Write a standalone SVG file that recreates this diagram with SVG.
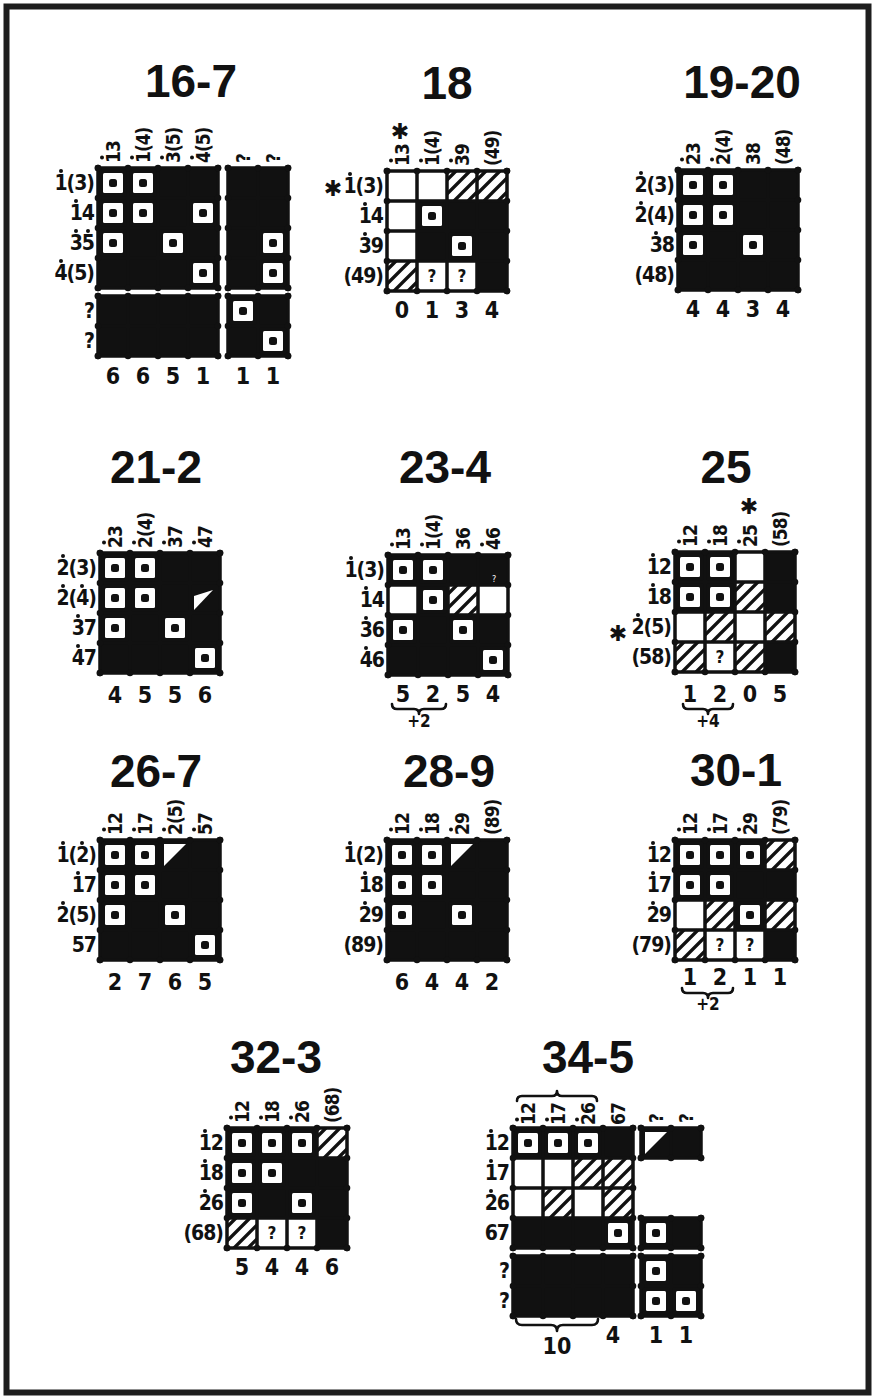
<svg xmlns="http://www.w3.org/2000/svg" width="875" height="1399" viewBox="0 0 875 1399">
<style>
.k{fill:#111}
.dt{fill:#111}
.g{fill:none;stroke:#111;stroke-width:3.5;marker-start:url(#k);marker-mid:url(#k);marker-end:url(#k)}
.br{fill:none;stroke:#111;stroke-width:2.6;stroke-linecap:round;stroke-linejoin:round}
.t{font-family:"Liberation Sans",Arial,sans-serif;font-weight:bold;font-size:46px;text-anchor:middle;fill:#111}
.r{font-family:"DejaVu Sans Condensed","DejaVu Sans",sans-serif;font-weight:bold;font-size:21px;text-anchor:end;fill:#111;letter-spacing:-1px}
.c{font-family:"DejaVu Sans Condensed","DejaVu Sans",sans-serif;font-weight:bold;font-size:19px;fill:#111;letter-spacing:-1px}
.n{font-family:"DejaVu Sans Condensed","DejaVu Sans",sans-serif;font-weight:bold;font-size:23px;text-anchor:middle;fill:#111}
.q{font-family:"DejaVu Sans Condensed","DejaVu Sans",sans-serif;font-weight:bold;font-size:17px;text-anchor:middle;fill:#111}
.s{font-family:"DejaVu Sans",sans-serif;font-weight:bold;font-size:22px;text-anchor:middle;fill:#111}
.p{font-family:"DejaVu Sans Condensed","DejaVu Sans",sans-serif;font-weight:bold;font-size:17px;text-anchor:middle;fill:#111}
</style>
<defs>
<marker id="k" viewBox="0 0 8 8" refX="4" refY="4" markerWidth="8" markerHeight="8" markerUnits="userSpaceOnUse" overflow="visible"><circle cx="4" cy="4" r="3.3" fill="#111"/></marker>
<g id="B"><rect width="30" height="30" fill="#111"/></g>
<g id="D"><rect width="30" height="30" fill="#111"/><rect x="5" y="5" width="20" height="20" rx="1.5" fill="#fff"/><rect x="11" y="11" width="8" height="8" rx="2.5" fill="#111"/></g>
<g id="H"><rect width="30" height="30" fill="#fff"/><path d="M0,9L9,0M0,23L23,0M7,30L30,7M21,30L30,21" stroke="#111" stroke-width="3.2" fill="none"/></g>
<g id="T"><rect width="30" height="30" fill="#111"/><path d="M4,4H26L4,26Z" fill="#fff"/></g>
</defs>
<rect width="875" height="1399" fill="#fff"/>
<rect x="6.5" y="6.5" width="862" height="1386" fill="none" stroke="#1e1e1e" stroke-width="6"/>

<g id="p16-7">
<text class="t" x="191" y="97">16-7</text>
<rect class="k" x="98" y="168" width="120" height="120"/>
<use href="#D" x="98" y="168"/><use href="#D" x="128" y="168"/>
<use href="#D" x="98" y="198"/><use href="#D" x="128" y="198"/><use href="#D" x="188" y="198"/>
<use href="#D" x="98" y="228"/><use href="#D" x="158" y="228"/>
<use href="#D" x="188" y="258"/>
<rect class="k" x="228" y="168" width="60" height="120"/>
<use href="#D" x="258" y="228"/><use href="#D" x="258" y="258"/>
<rect class="k" x="98" y="296" width="120" height="60"/>
<rect class="k" x="228" y="296" width="60" height="60"/>
<use href="#D" x="228" y="296"/><use href="#D" x="258" y="326"/>
<path class="g" d="M98,168V288M128,168V288M158,168V288M188,168V288M218,168V288M98,168H218M98,198H218M98,228H218M98,258H218M98,288H218"/>
<path class="g" d="M228,168V288M258,168V288M288,168V288M228,168H288M228,198H288M228,228H288M228,258H288M228,288H288"/>
<path class="g" d="M98,296V356M128,296V356M158,296V356M188,296V356M218,296V356M98,296H218M98,326H218M98,356H218"/>
<path class="g" d="M228,296V356M258,296V356M288,296V356M228,296H288M228,326H288M228,356H288"/>
<text class="r" x="94" y="190">1(3)</text>
<text class="r" x="94" y="220">14</text>
<text class="r" x="94" y="250">35</text>
<text class="r" x="94" y="280">4(5)</text>
<text class="r" x="94" y="318">?</text>
<text class="r" x="94" y="348">?</text>
<circle class="dt" cx="61" cy="171" r="2"/><circle class="dt" cx="76" cy="201" r="2"/><circle class="dt" cx="76" cy="231" r="2"/><circle class="dt" cx="88" cy="231" r="2"/><circle class="dt" cx="61" cy="261" r="2"/>
<text class="c" transform="translate(120,163) rotate(-90)">13</text>
<text class="c" transform="translate(150,163) rotate(-90)">1(4)</text>
<text class="c" transform="translate(180,163) rotate(-90)">3(5)</text>
<text class="c" transform="translate(210,163) rotate(-90)">4(5)</text>
<text class="c" transform="translate(250,163) rotate(-90)">?</text>
<text class="c" transform="translate(280,163) rotate(-90)">?</text>
<circle class="dt" cx="102" cy="157.5" r="2"/><circle class="dt" cx="132" cy="157.5" r="2"/><circle class="dt" cx="162" cy="157.5" r="2"/><circle class="dt" cx="192" cy="157.5" r="2"/>
<text class="n" x="113" y="384">6</text><text class="n" x="143" y="384">6</text><text class="n" x="173" y="384">5</text><text class="n" x="203" y="384">1</text>
<text class="n" x="243" y="384">1</text><text class="n" x="273" y="384">1</text>
</g>

<g id="p18">
<text class="t" x="447" y="99">18</text>
<use href="#H" x="447" y="171"/><use href="#H" x="477" y="171"/>
<use href="#D" x="417" y="201"/><rect class="k" x="447" y="201" width="60" height="30"/>
<use href="#B" x="417" y="231"/><use href="#D" x="447" y="231"/><use href="#B" x="477" y="231"/>
<use href="#H" x="387" y="261"/><use href="#B" x="477" y="261"/>
<text class="q" x="432" y="282">?</text><text class="q" x="462" y="282">?</text>
<path class="g" d="M387,171V291M417,171V291M447,171V291M477,171V291M507,171V291M387,171H507M387,201H507M387,231H507M387,261H507M387,291H507"/>
<text class="s" x="333" y="196">✱</text>
<text class="r" x="383" y="193">1(3)</text>
<text class="r" x="383" y="223">14</text>
<text class="r" x="383" y="253">39</text>
<text class="r" x="383" y="283">(49)</text>
<circle class="dt" cx="350" cy="174" r="2"/><circle class="dt" cx="365" cy="204" r="2"/><circle class="dt" cx="365" cy="234" r="2"/>
<text class="s" x="400" y="139">✱</text>
<text class="c" transform="translate(409,166) rotate(-90)">13</text>
<text class="c" transform="translate(439,166) rotate(-90)">1(4)</text>
<text class="c" transform="translate(469,166) rotate(-90)">39</text>
<text class="c" transform="translate(499,166) rotate(-90)">(49)</text>
<circle class="dt" cx="391" cy="160.5" r="2"/><circle class="dt" cx="421" cy="160.5" r="2"/><circle class="dt" cx="451" cy="160.5" r="2"/>
<text class="n" x="402" y="318">0</text><text class="n" x="432" y="318">1</text><text class="n" x="462" y="318">3</text><text class="n" x="492" y="318">4</text>
</g>

<g id="p19-20">
<text class="t" x="742" y="98">19-20</text>
<rect class="k" x="678" y="170" width="120" height="120"/>
<use href="#D" x="678" y="170"/><use href="#D" x="708" y="170"/>
<use href="#D" x="678" y="200"/><use href="#D" x="708" y="200"/>
<use href="#D" x="678" y="230"/><use href="#D" x="738" y="230"/>
<path class="g" d="M678,170V290M708,170V290M738,170V290M768,170V290M798,170V290M678,170H798M678,200H798M678,230H798M678,260H798M678,290H798"/>
<text class="r" x="674" y="192">2(3)</text>
<text class="r" x="674" y="222">2(4)</text>
<text class="r" x="674" y="252">38</text>
<text class="r" x="674" y="282">(48)</text>
<circle class="dt" cx="641" cy="173" r="2"/><circle class="dt" cx="641" cy="203" r="2"/><circle class="dt" cx="656" cy="233" r="2"/>
<text class="c" transform="translate(700,165) rotate(-90)">23</text>
<text class="c" transform="translate(730,165) rotate(-90)">2(4)</text>
<text class="c" transform="translate(760,165) rotate(-90)">38</text>
<text class="c" transform="translate(790,165) rotate(-90)">(48)</text>
<circle class="dt" cx="682" cy="159.5" r="2"/><circle class="dt" cx="712" cy="159.5" r="2"/>
<text class="n" x="693" y="317">4</text><text class="n" x="723" y="317">4</text><text class="n" x="753" y="317">3</text><text class="n" x="783" y="317">4</text>
</g>

<g id="p21-2">
<text class="t" x="156" y="483">21-2</text>
<rect class="k" x="100" y="553" width="120" height="120"/>
<use href="#D" x="100" y="553"/><use href="#D" x="130" y="553"/>
<use href="#D" x="100" y="583"/><use href="#D" x="130" y="583"/>
<path d="M194,596L213,590L194,610Z" fill="#fff"/>
<use href="#D" x="100" y="613"/><use href="#D" x="160" y="613"/>
<use href="#D" x="190" y="643"/>
<path class="g" d="M100,553V673M130,553V673M160,553V673M190,553V673M220,553V673M100,553H220M100,583H220M100,613H220M100,643H220M100,673H220"/>
<text class="r" x="96" y="575">2(3)</text>
<text class="r" x="96" y="605">2(4)</text>
<text class="r" x="96" y="635">37</text>
<text class="r" x="96" y="665">47</text>
<circle class="dt" cx="63" cy="556" r="2"/><circle class="dt" cx="63" cy="586" r="2"/><circle class="dt" cx="82" cy="586" r="2"/><circle class="dt" cx="78" cy="616" r="2"/><circle class="dt" cx="78" cy="646" r="2"/>
<text class="c" transform="translate(122,548) rotate(-90)">23</text>
<text class="c" transform="translate(152,548) rotate(-90)">2(4)</text>
<text class="c" transform="translate(182,548) rotate(-90)">37</text>
<text class="c" transform="translate(212,548) rotate(-90)">47</text>
<circle class="dt" cx="104" cy="542.5" r="2"/><circle class="dt" cx="134" cy="542.5" r="2"/><circle class="dt" cx="164" cy="542.5" r="2"/><circle class="dt" cx="194" cy="542.5" r="2"/>
<text class="n" x="115" y="703">4</text><text class="n" x="145" y="703">5</text><text class="n" x="175" y="703">5</text><text class="n" x="205" y="703">6</text>
</g>

<g id="p23-4">
<text class="t" x="445" y="483">23-4</text>
<use href="#D" x="388" y="555"/><use href="#D" x="418" y="555"/><rect class="k" x="448" y="555" width="60" height="30"/>
<use href="#D" x="418" y="585"/><use href="#H" x="448" y="585"/>
<use href="#D" x="388" y="615"/><use href="#B" x="418" y="615"/><use href="#D" x="448" y="615"/><use href="#B" x="478" y="615"/>
<rect class="k" x="388" y="645" width="90" height="30"/><use href="#D" x="478" y="645"/>
<text x="494" y="582" font-family="DejaVu Sans,sans-serif" font-size="8" fill="#fff" text-anchor="middle">?</text>
<path class="g" d="M388,555V675M418,555V675M448,555V675M478,555V675M508,555V675M388,555H508M388,585H508M388,615H508M388,645H508M388,675H508"/>
<text class="r" x="384" y="577">1(3)</text>
<text class="r" x="384" y="607">14</text>
<text class="r" x="384" y="637">36</text>
<text class="r" x="384" y="667">46</text>
<circle class="dt" cx="351" cy="558" r="2"/><circle class="dt" cx="366" cy="588" r="2"/><circle class="dt" cx="366" cy="618" r="2"/><circle class="dt" cx="366" cy="648" r="2"/>
<text class="c" transform="translate(410,550) rotate(-90)">13</text>
<text class="c" transform="translate(440,550) rotate(-90)">1(4)</text>
<text class="c" transform="translate(470,550) rotate(-90)">36</text>
<text class="c" transform="translate(500,550) rotate(-90)">46</text>
<circle class="dt" cx="392" cy="544.5" r="2"/><circle class="dt" cx="422" cy="544.5" r="2"/><circle class="dt" cx="482" cy="544.5" r="2"/>
<text class="n" x="403" y="702">5</text><text class="n" x="433" y="702">2</text><text class="n" x="463" y="702">5</text><text class="n" x="493" y="702">4</text>
<path class="br" d="M392,704Q392,709 397,709L414,709Q419,709 419,714Q419,709 424,709L441,709Q446,709 446,704"/>
<text class="p" x="419" y="727">+2</text>
</g>

<g id="p25">
<text class="t" x="726" y="483">25</text>
<use href="#D" x="675" y="552"/><use href="#D" x="705" y="552"/><use href="#B" x="765" y="552"/>
<use href="#D" x="675" y="582"/><use href="#D" x="705" y="582"/><use href="#H" x="735" y="582"/><use href="#B" x="765" y="582"/>
<use href="#H" x="705" y="612"/><use href="#H" x="765" y="612"/>
<use href="#H" x="675" y="642"/><use href="#H" x="735" y="642"/><use href="#B" x="765" y="642"/>
<text class="q" x="720" y="663">?</text>
<path class="g" d="M675,552V672M705,552V672M735,552V672M765,552V672M795,552V672M675,552H795M675,582H795M675,612H795M675,642H795M675,672H795"/>
<text class="r" x="671" y="574">12</text>
<text class="r" x="671" y="604">18</text>
<text class="r" x="671" y="634">2(5)</text>
<text class="r" x="671" y="664">(58)</text>
<circle class="dt" cx="653" cy="555" r="2"/><circle class="dt" cx="653" cy="585" r="2"/><circle class="dt" cx="638" cy="615" r="2"/>
<text class="s" x="618" y="641">✱</text>
<text class="s" x="749" y="514">✱</text>
<text class="c" transform="translate(697,547) rotate(-90)">12</text>
<text class="c" transform="translate(727,547) rotate(-90)">18</text>
<text class="c" transform="translate(757,547) rotate(-90)">25</text>
<text class="c" transform="translate(787,547) rotate(-90)">(58)</text>
<circle class="dt" cx="679" cy="541.5" r="2"/><circle class="dt" cx="709" cy="541.5" r="2"/><circle class="dt" cx="739" cy="541.5" r="2"/>
<text class="n" x="690" y="702">1</text><text class="n" x="720" y="702">2</text><text class="n" x="750" y="702">0</text><text class="n" x="780" y="702">5</text>
<path class="br" d="M683,704Q683,709 688,709L703,709Q708,709 708,714Q708,709 713,709L728,709Q733,709 733,704"/>
<text class="p" x="708" y="727">+4</text>
</g>

<g id="p26-7">
<text class="t" x="156" y="787">26-7</text>
<rect class="k" x="100" y="840" width="120" height="120"/>
<use href="#D" x="100" y="840"/><use href="#D" x="130" y="840"/><use href="#T" x="160" y="840"/>
<use href="#D" x="100" y="870"/><use href="#D" x="130" y="870"/>
<use href="#D" x="100" y="900"/><use href="#D" x="160" y="900"/>
<use href="#D" x="190" y="930"/>
<path class="g" d="M100,840V960M130,840V960M160,840V960M190,840V960M220,840V960M100,840H220M100,870H220M100,900H220M100,930H220M100,960H220"/>
<text class="r" x="96" y="862">1(2)</text>
<text class="r" x="96" y="892">17</text>
<text class="r" x="96" y="922">2(5)</text>
<text class="r" x="96" y="952">57</text>
<circle class="dt" cx="63" cy="843" r="2"/><circle class="dt" cx="82" cy="843" r="2"/><circle class="dt" cx="78" cy="873" r="2"/><circle class="dt" cx="63" cy="903" r="2"/>
<text class="c" transform="translate(122,835) rotate(-90)">12</text>
<text class="c" transform="translate(152,835) rotate(-90)">17</text>
<text class="c" transform="translate(182,835) rotate(-90)">2(5)</text>
<text class="c" transform="translate(212,835) rotate(-90)">57</text>
<circle class="dt" cx="104" cy="829.5" r="2"/><circle class="dt" cx="134" cy="829.5" r="2"/><circle class="dt" cx="164" cy="829.5" r="2"/><circle class="dt" cx="194" cy="829.5" r="2"/>
<text class="n" x="115" y="990">2</text><text class="n" x="145" y="990">7</text><text class="n" x="175" y="990">6</text><text class="n" x="205" y="990">5</text>
</g>

<g id="p28-9">
<text class="t" x="449" y="787">28-9</text>
<rect class="k" x="387" y="840" width="120" height="120"/>
<use href="#D" x="387" y="840"/><use href="#D" x="417" y="840"/><use href="#T" x="447" y="840"/>
<use href="#D" x="387" y="870"/><use href="#D" x="417" y="870"/>
<use href="#D" x="387" y="900"/><use href="#D" x="447" y="900"/>
<path class="g" d="M387,840V960M417,840V960M447,840V960M477,840V960M507,840V960M387,840H507M387,870H507M387,900H507M387,930H507M387,960H507"/>
<text class="r" x="383" y="862">1(2)</text>
<text class="r" x="383" y="892">18</text>
<text class="r" x="383" y="922">29</text>
<text class="r" x="383" y="952">(89)</text>
<circle class="dt" cx="350" cy="843" r="2"/><circle class="dt" cx="365" cy="873" r="2"/><circle class="dt" cx="365" cy="903" r="2"/>
<text class="c" transform="translate(409,835) rotate(-90)">12</text>
<text class="c" transform="translate(439,835) rotate(-90)">18</text>
<text class="c" transform="translate(469,835) rotate(-90)">29</text>
<text class="c" transform="translate(499,835) rotate(-90)">(89)</text>
<circle class="dt" cx="391" cy="829.5" r="2"/><circle class="dt" cx="421" cy="829.5" r="2"/><circle class="dt" cx="451" cy="829.5" r="2"/>
<text class="n" x="402" y="990">6</text><text class="n" x="432" y="990">4</text><text class="n" x="462" y="990">4</text><text class="n" x="492" y="990">2</text>
</g>

<g id="p30-1">
<text class="t" x="736" y="786">30-1</text>
<use href="#D" x="675" y="840"/><use href="#D" x="705" y="840"/><use href="#D" x="735" y="840"/><use href="#H" x="765" y="840"/>
<use href="#D" x="675" y="870"/><use href="#D" x="705" y="870"/><rect class="k" x="735" y="870" width="60" height="30"/>
<use href="#H" x="705" y="900"/><use href="#D" x="735" y="900"/><use href="#H" x="765" y="900"/>
<use href="#H" x="675" y="930"/><use href="#B" x="765" y="930"/>
<text class="q" x="720" y="951">?</text><text class="q" x="750" y="951">?</text>
<path class="g" d="M675,840V960M705,840V960M735,840V960M765,840V960M795,840V960M675,840H795M675,870H795M675,900H795M675,930H795M675,960H795"/>
<text class="r" x="671" y="862">12</text>
<text class="r" x="671" y="892">17</text>
<text class="r" x="671" y="922">29</text>
<text class="r" x="671" y="952">(79)</text>
<circle class="dt" cx="653" cy="843" r="2"/><circle class="dt" cx="653" cy="873" r="2"/><circle class="dt" cx="653" cy="903" r="2"/>
<text class="c" transform="translate(697,835) rotate(-90)">12</text>
<text class="c" transform="translate(727,835) rotate(-90)">17</text>
<text class="c" transform="translate(757,835) rotate(-90)">29</text>
<text class="c" transform="translate(787,835) rotate(-90)">(79)</text>
<circle class="dt" cx="679" cy="829.5" r="2"/><circle class="dt" cx="709" cy="829.5" r="2"/><circle class="dt" cx="739" cy="829.5" r="2"/>
<text class="n" x="690" y="985">1</text><text class="n" x="720" y="985">2</text><text class="n" x="750" y="985">1</text><text class="n" x="780" y="985">1</text>
<path class="br" d="M682,988Q682,993 687,993L703,993Q708,993 708,998Q708,993 713,993L728,993Q733,993 733,988"/>
<text class="p" x="708" y="1010">+2</text>
</g>

<g id="p32-3">
<text class="t" x="276" y="1073">32-3</text>
<use href="#D" x="227" y="1128"/><use href="#D" x="257" y="1128"/><use href="#D" x="287" y="1128"/><use href="#H" x="317" y="1128"/>
<use href="#D" x="227" y="1158"/><use href="#D" x="257" y="1158"/><rect class="k" x="287" y="1158" width="60" height="30"/>
<use href="#D" x="227" y="1188"/><use href="#B" x="257" y="1188"/><use href="#D" x="287" y="1188"/><use href="#B" x="317" y="1188"/>
<use href="#H" x="227" y="1218"/><use href="#B" x="317" y="1218"/>
<text class="q" x="272" y="1239">?</text><text class="q" x="302" y="1239">?</text>
<path class="g" d="M227,1128V1248M257,1128V1248M287,1128V1248M317,1128V1248M347,1128V1248M227,1128H347M227,1158H347M227,1188H347M227,1218H347M227,1248H347"/>
<text class="r" x="223" y="1150">12</text>
<text class="r" x="223" y="1180">18</text>
<text class="r" x="223" y="1210">26</text>
<text class="r" x="223" y="1240">(68)</text>
<circle class="dt" cx="205" cy="1131" r="2"/><circle class="dt" cx="205" cy="1161" r="2"/><circle class="dt" cx="205" cy="1191" r="2"/>
<text class="c" transform="translate(249,1123) rotate(-90)">12</text>
<text class="c" transform="translate(279,1123) rotate(-90)">18</text>
<text class="c" transform="translate(309,1123) rotate(-90)">26</text>
<text class="c" transform="translate(339,1123) rotate(-90)">(68)</text>
<circle class="dt" cx="231" cy="1117.5" r="2"/><circle class="dt" cx="261" cy="1117.5" r="2"/><circle class="dt" cx="291" cy="1117.5" r="2"/>
<text class="n" x="242" y="1275">5</text><text class="n" x="272" y="1275">4</text><text class="n" x="302" y="1275">4</text><text class="n" x="332" y="1275">6</text>
</g>

<g id="p34-5">
<text class="t" x="588" y="1073">34-5</text>
<use href="#D" x="513" y="1128"/><use href="#D" x="543" y="1128"/><use href="#D" x="573" y="1128"/><use href="#B" x="603" y="1128"/>
<use href="#H" x="573" y="1158"/><use href="#H" x="603" y="1158"/>
<use href="#H" x="543" y="1188"/><use href="#H" x="603" y="1188"/>
<rect class="k" x="513" y="1218" width="90" height="30"/><use href="#D" x="603" y="1218"/>
<use href="#T" x="641" y="1128"/><use href="#B" x="671" y="1128"/>
<use href="#D" x="641" y="1218"/><use href="#B" x="671" y="1218"/>
<rect class="k" x="513" y="1256" width="120" height="60"/>
<use href="#D" x="641" y="1256"/><use href="#B" x="671" y="1256"/>
<use href="#D" x="641" y="1286"/><use href="#D" x="671" y="1286"/>
<path class="g" d="M513,1128V1248M543,1128V1248M573,1128V1248M603,1128V1248M633,1128V1248M513,1128H633M513,1158H633M513,1188H633M513,1218H633M513,1248H633"/>
<path class="g" d="M641,1128V1158M671,1128V1158M701,1128V1158M641,1128H701M641,1158H701"/>
<path class="g" d="M641,1218V1248M671,1218V1248M701,1218V1248M641,1218H701M641,1248H701"/>
<path class="g" d="M513,1256V1316M543,1256V1316M573,1256V1316M603,1256V1316M633,1256V1316M513,1256H633M513,1286H633M513,1316H633"/>
<path class="g" d="M641,1256V1316M671,1256V1316M701,1256V1316M641,1256H701M641,1286H701M641,1316H701"/>
<text class="r" x="509" y="1150">12</text>
<text class="r" x="509" y="1180">17</text>
<text class="r" x="509" y="1210">26</text>
<text class="r" x="509" y="1240">67</text>
<text class="r" x="509" y="1278">?</text>
<text class="r" x="509" y="1308">?</text>
<circle class="dt" cx="491" cy="1131" r="2"/><circle class="dt" cx="491" cy="1161" r="2"/><circle class="dt" cx="491" cy="1191" r="2"/>
<path class="br" d="M517,1101Q517,1096 522,1096L552,1096Q557,1096 557,1091Q557,1096 562,1096L592,1096Q597,1096 597,1101"/>
<text class="c" transform="translate(535,1125) rotate(-90)">12</text>
<text class="c" transform="translate(565,1125) rotate(-90)">17</text>
<text class="c" transform="translate(595,1125) rotate(-90)">26</text>
<text class="c" transform="translate(625,1125) rotate(-90)">67</text>
<text class="c" transform="translate(663,1123) rotate(-90)">?</text>
<text class="c" transform="translate(693,1123) rotate(-90)">?</text>
<circle class="dt" cx="517" cy="1119.5" r="2"/><circle class="dt" cx="547" cy="1119.5" r="2"/><circle class="dt" cx="577" cy="1119.5" r="2"/>
<path class="br" d="M516,1319Q516,1325 522,1325L551,1325Q557,1325 557,1331Q557,1325 563,1325L592,1325Q598,1325 598,1319"/>
<text class="n" x="557" y="1354">10</text>
<text class="n" x="613" y="1343">4</text>
<text class="n" x="656" y="1343">1</text><text class="n" x="686" y="1343">1</text>
</g>
</svg>
